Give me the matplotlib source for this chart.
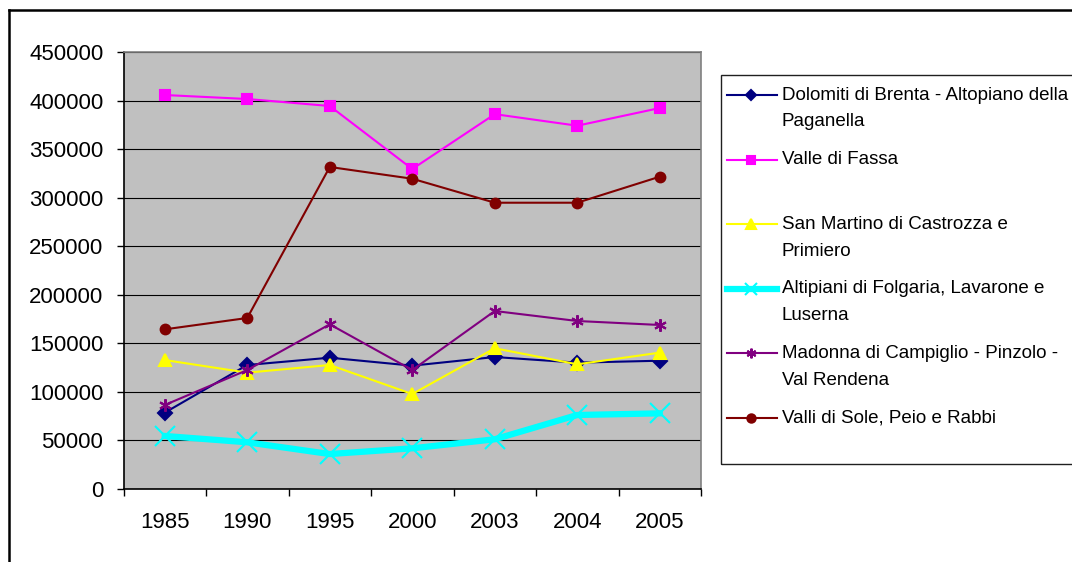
import matplotlib.pyplot as plt
from matplotlib.lines import Line2D
from matplotlib.patches import Rectangle

plt.rcParams['font.family'] = ['Liberation Sans', 'DejaVu Sans']

years = ['1985', '1990', '1995', '2000', '2003', '2004', '2005']

names = ['Dolomiti di Brenta - Altopiano della\nPaganella',
         'Valle di Fassa',
         'San Martino di Castrozza e\nPrimiero',
         'Altipiani di Folgaria, Lavarone e\nLuserna',
         'Madonna di Campiglio - Pinzolo -\nVal Rendena',
         'Valli di Sole, Peio e Rabbi']

dolomiti = [78600, 127700, 135200, 127000, 135900, 130100, 132100]
fassa = [405700, 401600, 394400, 329500, 386000, 374100, 392300]
san_martino = [132800, 119800, 127700, 97800, 144900, 128400, 140400]
altipiani = [54600, 48100, 36000, 41900, 51200, 76200, 77900]
madonna = [86500, 122500, 169600, 122500, 183300, 173000, 168900]
valli_sole = [164400, 176100, 331600, 319500, 294800, 294800, 321600]

series = [dolomiti, fassa, san_martino, altipiani, madonna, valli_sole]
colors = ['#000080', '#FF00FF', '#FFFF00', '#00FFFF', '#800080', '#800000']
markers = ['D', 's', '^', 'x', (6, 2, 0), 'o']
msizes = [7, 7, 8, 15, 9, 7]
leg_msizes = [5, 6, 7, 8, 7, 6]
lwidths = [1.5, 1.5, 1.5, 4.5, 1.5, 1.5]

fig = plt.figure(figsize=(10.72, 5.62), dpi=100)
ax = fig.add_axes([123.5 / 1072, 73 / 562, 577.5 / 1072, 437 / 562])
ax.set_facecolor('#C0C0C0')

x = list(range(len(years)))
for vals, c, m, ms, lw in zip(series, colors, markers, msizes, lwidths):
    ax.plot(x, vals, color=c, lw=lw, marker=m, ms=ms, mfc=c, mec=c,
            mew=1.5, zorder=3)

ax.set_xlim(-0.5, len(years) - 0.5)
ax.set_ylim(0, 450000)
ax.set_yticks(range(0, 450001, 50000))
ax.set_yticklabels([str(v) for v in range(0, 450001, 50000)])
ax.set_xticks(x)
ax.set_xticklabels(years)
ax.set_xticks([i - 0.5 for i in range(len(years) + 1)], minor=True)
ax.tick_params(axis='x', which='major', length=0, pad=16.5, labelsize=16)
ax.tick_params(axis='x', which='minor', length=5, width=1, direction='out')
ax.tick_params(axis='y', length=5, width=1, pad=9.5, labelsize=16)
ax.grid(axis='y', color='black', lw=0.8, zorder=1)
ax.set_axisbelow(True)

for s in ['top', 'right']:
    ax.spines[s].set_color('#808080')
    ax.spines[s].set_linewidth(1.2)
for s in ['left', 'bottom']:
    ax.spines[s].set_color('black')
    ax.spines[s].set_linewidth(1.2)

# outer chart frame (only top and left visible)
fig.add_artist(Line2D([9 / 1072, 1.0], [1 - 10 / 562, 1 - 10 / 562],
                      color='black', lw=1.8))
fig.add_artist(Line2D([9 / 1072, 9 / 1072], [0, 1 - 10 / 562],
                      color='black', lw=1.8))

# legend box, runs off the right edge like the original
W, H = 1072, 562
fig.add_artist(Rectangle((720.5 / W, 1 - 464 / H), 400 / W, (464 - 75) / H,
                         fill=False, edgecolor='#202020', lw=1.0,
                         clip_on=False))
for i, (name, c, m, ms, lw) in enumerate(zip(names, colors, markers,
                                             leg_msizes, lwidths)):
    yc = 95 + 64.6 * i
    fy = 1 - yc / H
    fig.add_artist(Line2D([727 / W, 777 / W], [fy, fy], color=c, lw=lw))
    fig.add_artist(Line2D([751 / W], [fy], color=c, marker=m, ms=ms,
                          mfc=c, mec=c, mew=1.5, lw=0))
    for j, line in enumerate(name.split('\n')):
        fig.text(781.5 / W, 1 - (yc + 27 * j) / H, line, fontsize=13.5,
                 va='center', ha='left')

fig.savefig('out.png', dpi=100)
